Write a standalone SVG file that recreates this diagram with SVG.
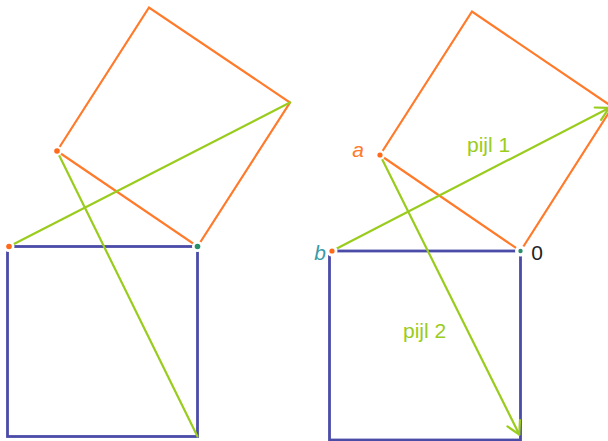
<svg xmlns="http://www.w3.org/2000/svg" width="608" height="441" viewBox="0 0 608 441">
<style>
.or{stroke:#ff7a2a;stroke-width:2.2;fill:none;stroke-linecap:round}
.gr{stroke:#9acc1e;stroke-width:2.2;fill:none;stroke-linecap:round}
.bl{stroke:#4b4ba8;stroke-width:2.8;fill:none}
.halo{fill:#fff}
.dot-o{fill:#ff6a1a}
.dot-t{fill:#2a8f6a}
.lbl{font-family:"Liberation Sans",Arial,sans-serif;font-size:21px}
</style>
<defs>
<marker id="arr" markerUnits="userSpaceOnUse" markerWidth="30" markerHeight="30" refX="0" refY="0" viewBox="-15 -15 30 30" orient="auto" overflow="visible">
<path d="M-12.5,-7 L0,0 L-12.5,7" fill="none" stroke="#9acc1e" stroke-width="2.2" stroke-linecap="round" stroke-linejoin="round"/>
</marker>
</defs>
<rect width="608" height="441" fill="#fff"/>
<g id="connectors">
<polyline class="or" points="57,151 149,7.5 290,102.5 197.5,246.5 57,151"/>
<rect class="bl" x="7.5" y="246.5" width="190" height="190"/>
<line class="gr" x1="9" y1="246.5" x2="290" y2="102.5"/>
<line class="gr" x1="57" y1="151" x2="197.5" y2="436.5"/>
<polyline class="or" points="380,155 472,11.5 612.5,107 520.5,251 380,155"/>
<rect class="bl" x="329.5" y="251" width="191" height="189"/>
<line class="gr" x1="332" y1="251" x2="609" y2="108" marker-end="url(#arr)"/>
<line class="gr" x1="380" y1="155" x2="519.3" y2="434.5" marker-end="url(#arr)"/>
</g>
<g id="points-left">
<circle class="halo" cx="9" cy="246.5" r="5.5"/>
<circle class="dot-o" cx="9" cy="246.5" r="2.8"/>
<circle class="halo" cx="57" cy="151" r="5"/>
<circle class="dot-o" cx="57" cy="151" r="2.8"/>
<circle class="halo" cx="197.5" cy="246.5" r="5.5"/>
<circle class="dot-t" cx="197.5" cy="246.5" r="2.8"/>
</g>
<g id="node-a">
<circle class="halo" cx="380" cy="155" r="5"/>
<circle class="dot-o" cx="380" cy="155" r="2.6"/>
<text class="lbl" x="358" y="157" text-anchor="middle" font-style="italic" fill="#ff7a2a">a</text>
</g>
<g id="node-b">
<circle class="halo" cx="332" cy="251" r="5.5"/>
<circle class="dot-o" cx="332" cy="251" r="2.6"/>
<text class="lbl" x="320" y="260" text-anchor="middle" font-style="italic" fill="#3a9aa8">b</text>
</g>
<g id="node-0">
<circle class="halo" cx="520.5" cy="251" r="5.5"/>
<circle class="dot-t" cx="520.5" cy="251" r="2.2"/>
<text class="lbl" x="537" y="260" text-anchor="middle" fill="#222">0</text>
</g>
<g id="labels">
<text class="lbl" x="467" y="152" fill="#9acc1e">pijl 1</text>
<text class="lbl" x="403" y="338" fill="#9acc1e">pijl 2</text>
</g>
</svg>
